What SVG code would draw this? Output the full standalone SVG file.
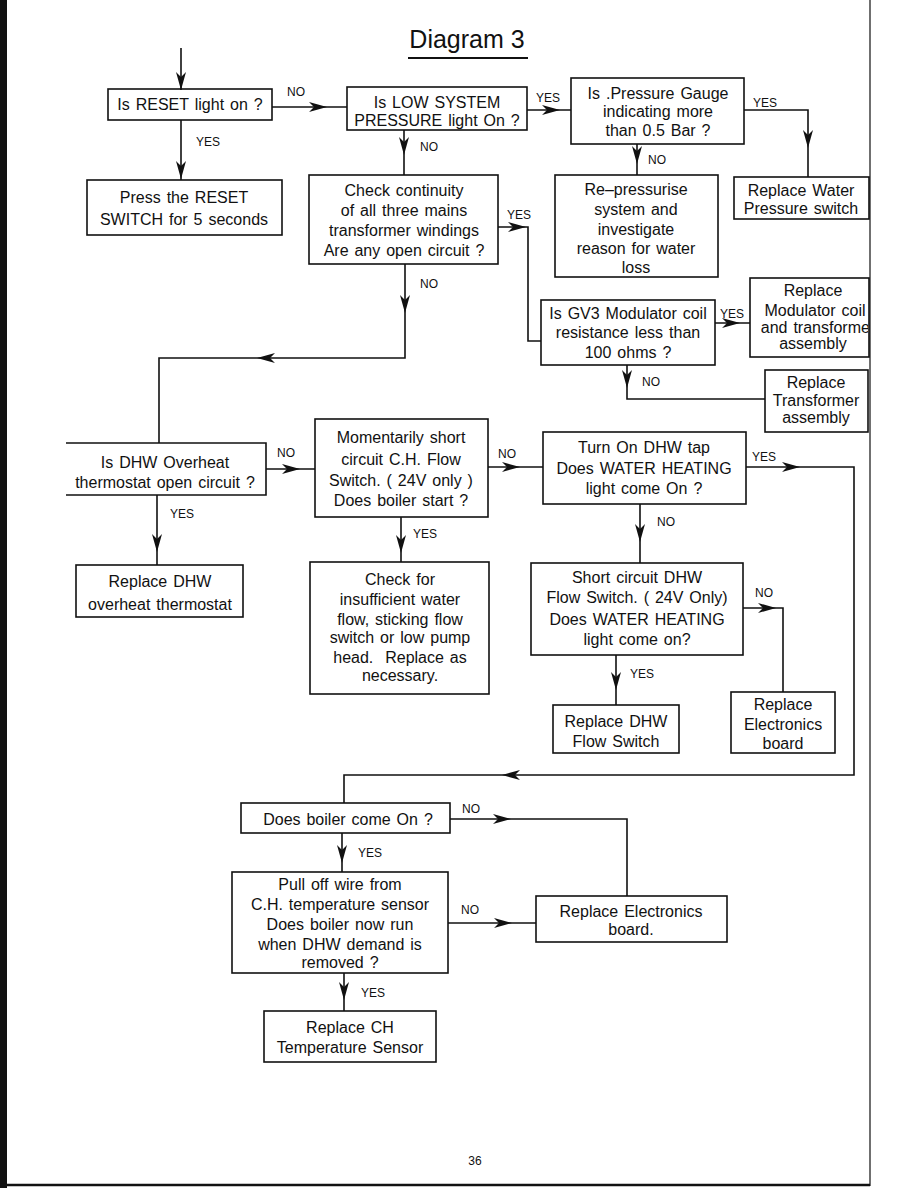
<svg xmlns="http://www.w3.org/2000/svg" xmlns:xlink="http://www.w3.org/1999/xlink" width="918" height="1188" viewBox="0 0 918 1188">
<style>
.box{fill:none;stroke:#111;stroke-width:1.6}
.t{font-family:"Liberation Sans",Arial,sans-serif;font-size:16px;fill:#111;text-anchor:middle;word-spacing:1.5px}
.lb{font-family:"Liberation Sans",Arial,sans-serif;font-size:12px;fill:#111}
.c{fill:none;stroke:#111;stroke-width:1.6}
.ah{fill:#111}
</style>
<defs>
<path id="ah" d="M0,0 L-18,-5 L-13,0 L-18,5 Z"/>
<clipPath id="edge"><rect x="0" y="0" width="868" height="1188"/></clipPath>
</defs>
<rect width="918" height="1188" fill="#fff"/>
<g id="page">
<rect x="0" y="0" width="7" height="1188" fill="#111"/>
<line x1="870" y1="0" x2="870" y2="1186" stroke="#333" stroke-width="1.4"/>
<line x1="0" y1="1185" x2="870" y2="1185" stroke="#111" stroke-width="2.5"/>
<text x="467" y="48" font-family="'Liberation Sans',Arial,sans-serif" font-size="25" text-anchor="middle" fill="#111">Diagram 3</text>
<line x1="408" y1="58" x2="528" y2="58" stroke="#111" stroke-width="2"/>
<text x="475" y="1165" class="lb" text-anchor="middle">36</text>
</g>
<g id="connectors">
<path class="c" d="M181,48 V90"/>
<path class="c" d="M272,107 H347"/>
<path class="c" d="M181,120 V180"/>
<path class="c" d="M527,110 H571"/>
<path class="c" d="M404,130 V175"/>
<path class="c" d="M744,110 H808 V177"/>
<path class="c" d="M637,144 V175"/>
<path class="c" d="M498,227 H528 V341 H541"/>
<path class="c" d="M405,264 V358 H159 V443"/>
<path class="c" d="M715,323 H750"/>
<path class="c" d="M627,365 V399 H765"/>
<path class="c" d="M266,469 H315"/>
<path class="c" d="M157,495 V565"/>
<path class="c" d="M401,517 V562"/>
<path class="c" d="M488,467 H543"/>
<path class="c" d="M746,467 H854 V775 H344 V803"/>
<path class="c" d="M640,504 V563"/>
<path class="c" d="M743,608 H783 V692"/>
<path class="c" d="M616,655 V705"/>
<path class="c" d="M450,819 H627 V896"/>
<path class="c" d="M342,833 V872"/>
<path class="c" d="M448,923 H536"/>
<path class="c" d="M344,973 V1011"/>
<g class="ah">
<use xlink:href="#ah" transform="translate(181,90) rotate(90)"/>
<use xlink:href="#ah" transform="translate(327,107)"/>
<use xlink:href="#ah" transform="translate(181,179) rotate(90)"/>
<use xlink:href="#ah" transform="translate(560,110)"/>
<use xlink:href="#ah" transform="translate(404,155) rotate(90)"/>
<use xlink:href="#ah" transform="translate(808,148) rotate(90)"/>
<use xlink:href="#ah" transform="translate(637,164) rotate(90)"/>
<use xlink:href="#ah" transform="translate(526,227)"/>
<use xlink:href="#ah" transform="translate(405,313) rotate(90)"/>
<use xlink:href="#ah" transform="translate(257,358) rotate(180)"/>
<use xlink:href="#ah" transform="translate(740,323)"/>
<use xlink:href="#ah" transform="translate(627,388) rotate(90)"/>
<use xlink:href="#ah" transform="translate(300,469)"/>
<use xlink:href="#ah" transform="translate(157,552) rotate(90)"/>
<use xlink:href="#ah" transform="translate(401,553) rotate(90)"/>
<use xlink:href="#ah" transform="translate(520,467)"/>
<use xlink:href="#ah" transform="translate(800,467)"/>
<use xlink:href="#ah" transform="translate(502,775) rotate(180)"/>
<use xlink:href="#ah" transform="translate(640,542) rotate(90)"/>
<use xlink:href="#ah" transform="translate(776,608)"/>
<use xlink:href="#ah" transform="translate(616,690) rotate(90)"/>
<use xlink:href="#ah" transform="translate(511,819)"/>
<use xlink:href="#ah" transform="translate(342,863) rotate(90)"/>
<use xlink:href="#ah" transform="translate(512,923)"/>
<use xlink:href="#ah" transform="translate(344,1000) rotate(90)"/>
</g>
<text class="lb" x="287" y="96">NO</text>
<text class="lb" x="536" y="102">YES</text>
<text class="lb" x="420" y="151">NO</text>
<text class="lb" x="196" y="146">YES</text>
<text class="lb" x="753" y="107">YES</text>
<text class="lb" x="648" y="164">NO</text>
<text class="lb" x="507" y="219">YES</text>
<text class="lb" x="420" y="288">NO</text>
<text class="lb" x="720" y="318">YES</text>
<text class="lb" x="642" y="386">NO</text>
<text class="lb" x="277" y="457">NO</text>
<text class="lb" x="170" y="518">YES</text>
<text class="lb" x="413" y="538">YES</text>
<text class="lb" x="498" y="458">NO</text>
<text class="lb" x="752" y="461">YES</text>
<text class="lb" x="657" y="526">NO</text>
<text class="lb" x="755" y="597">NO</text>
<text class="lb" x="630" y="678">YES</text>
<text class="lb" x="462" y="813">NO</text>
<text class="lb" x="358" y="857">YES</text>
<text class="lb" x="461" y="914">NO</text>
<text class="lb" x="361" y="997">YES</text>
</g>
<g id="n-reset">
<rect class="box" x="108" y="89" width="164" height="31"/>
<text class="t" x="190" y="110" word-spacing="4">Is RESET light on ?</text>
</g>
<g id="n-lowpressure">
<rect class="box" x="347" y="87" width="180" height="43"/>
<text class="t" x="437" y="108">Is LOW SYSTEM</text>
<text class="t" x="437" y="126">PRESSURE light On ?</text>
</g>
<g id="n-gauge">
<rect class="box" x="571" y="78" width="173" height="66"/>
<text class="t" x="658" y="99">Is .Pressure Gauge</text>
<text class="t" x="658" y="117">indicating more</text>
<text class="t" x="658" y="136">than 0.5 Bar ?</text>
</g>
<g id="n-replace-pswitch">
<rect class="box" x="734" y="177" width="135" height="42"/>
<text class="t" x="801" y="196">Replace Water</text>
<text class="t" x="801" y="214">Pressure switch</text>
</g>
<g id="n-repressurise">
<rect class="box" x="555" y="175" width="163" height="102"/>
<text class="t" x="636" y="195">Re–pressurise</text>
<text class="t" x="636" y="215">system and</text>
<text class="t" x="636" y="235">investigate</text>
<text class="t" x="636" y="254">reason for water</text>
<text class="t" x="636" y="273">loss</text>
</g>
<g id="n-press-reset">
<rect class="box" x="87" y="180" width="195" height="55"/>
<text class="t" x="184" y="203">Press the RESET</text>
<text class="t" x="184" y="225">SWITCH for 5 seconds</text>
</g>
<g id="n-continuity">
<rect class="box" x="309" y="175" width="189" height="89"/>
<text class="t" x="404" y="196">Check continuity</text>
<text class="t" x="404" y="216">of all three mains</text>
<text class="t" x="404" y="236">transformer windings</text>
<text class="t" x="404" y="256">Are any open circuit ?</text>
</g>
<g id="n-gv3">
<rect class="box" x="541" y="300" width="174" height="65"/>
<text class="t" x="628" y="319" word-spacing="3">Is GV3 Modulator coil</text>
<text class="t" x="628" y="338" word-spacing="3">resistance less than</text>
<text class="t" x="628" y="358">100 ohms ?</text>
</g>
<g id="n-replace-modulator">
<rect class="box" x="750" y="278" width="119" height="79"/>
<g clip-path="url(#edge)">
<text class="t" x="813" y="296">Replace</text>
<text class="t" x="815" y="316">Modulator coil</text>
<text class="t" x="818" y="333">and transformer</text>
<text class="t" x="813" y="349">assembly</text>
</g>
</g>
<g id="n-replace-transformer">
<rect class="box" x="765" y="370" width="103" height="62"/>
<text class="t" x="816" y="388">Replace</text>
<text class="t" x="816" y="406">Transformer</text>
<text class="t" x="816" y="423">assembly</text>
</g>
<g id="n-dhw-overheat">
<path class="box" d="M66,443 H266 V495 H66"/>
<text class="t" x="165" y="468" word-spacing="3">Is DHW Overheat</text>
<text class="t" x="165" y="488" word-spacing="3">thermostat open circuit ?</text>
</g>
<g id="n-replace-overheat">
<rect class="box" x="76" y="565" width="167" height="52"/>
<text class="t" x="160" y="587">Replace DHW</text>
<text class="t" x="160" y="610">overheat thermostat</text>
</g>
<g id="n-momentarily">
<rect class="box" x="315" y="419" width="173" height="98"/>
<text class="t" x="401" y="443" word-spacing="3">Momentarily short</text>
<text class="t" x="401" y="465" word-spacing="3">circuit C.H. Flow</text>
<text class="t" x="401" y="486" word-spacing="3">Switch. ( 24V only )</text>
<text class="t" x="401" y="506" word-spacing="3">Does boiler start ?</text>
</g>
<g id="n-check-flow">
<rect class="box" x="310" y="562" width="179" height="132"/>
<text class="t" x="400" y="585">Check for</text>
<text class="t" x="400" y="605">insufficient water</text>
<text class="t" x="400" y="625">flow, sticking flow</text>
<text class="t" x="400" y="643">switch or low pump</text>
<text class="t" x="400" y="663" xml:space="preserve">head.  Replace as</text>
<text class="t" x="400" y="681">necessary.</text>
</g>
<g id="n-turn-on-tap">
<rect class="box" x="543" y="432" width="203" height="72"/>
<text class="t" x="644" y="453">Turn On DHW tap</text>
<text class="t" x="644" y="474">Does WATER HEATING</text>
<text class="t" x="644" y="494">light come On ?</text>
</g>
<g id="n-short-dhw">
<rect class="box" x="531" y="563" width="212" height="92"/>
<text class="t" x="637" y="583">Short circuit DHW</text>
<text class="t" x="637" y="603">Flow Switch. ( 24V Only)</text>
<text class="t" x="637" y="625">Does WATER HEATING</text>
<text class="t" x="637" y="645">light come on?</text>
</g>
<g id="n-replace-flowswitch">
<rect class="box" x="553" y="705" width="126" height="48"/>
<text class="t" x="616" y="727">Replace DHW</text>
<text class="t" x="616" y="747">Flow Switch</text>
</g>
<g id="n-replace-electronics-1">
<rect class="box" x="731" y="692" width="104" height="61"/>
<text class="t" x="783" y="710">Replace</text>
<text class="t" x="783" y="730">Electronics</text>
<text class="t" x="783" y="749">board</text>
</g>
<g id="n-boiler-on">
<rect class="box" x="241" y="803" width="209" height="30"/>
<text class="t" x="348" y="825" word-spacing="3">Does boiler come On ?</text>
</g>
<g id="n-pull-wire">
<rect class="box" x="232" y="872" width="216" height="101"/>
<text class="t" x="340" y="890" word-spacing="3">Pull off wire from</text>
<text class="t" x="340" y="910" word-spacing="3">C.H. temperature sensor</text>
<text class="t" x="340" y="930" word-spacing="3">Does boiler now run</text>
<text class="t" x="340" y="950" word-spacing="3">when DHW demand is</text>
<text class="t" x="340" y="968">removed ?</text>
</g>
<g id="n-replace-electronics-2">
<rect class="box" x="536" y="896" width="191" height="46"/>
<text class="t" x="631" y="917">Replace Electronics</text>
<text class="t" x="631" y="935">board.</text>
</g>
<g id="n-replace-ch-sensor">
<rect class="box" x="264" y="1011" width="172" height="51"/>
<text class="t" x="350" y="1033">Replace CH</text>
<text class="t" x="350" y="1053">Temperature Sensor</text>
</g>
</svg>
